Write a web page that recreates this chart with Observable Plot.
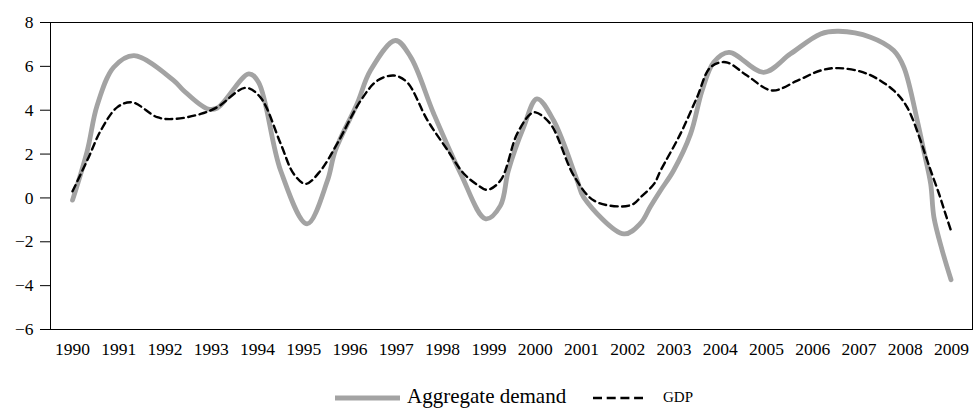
<!DOCTYPE html>
<html>
<head>
<meta charset="utf-8">
<script src="https://cdn.jsdelivr.net/npm/d3@7"></script>
<script src="https://cdn.jsdelivr.net/npm/@observablehq/plot@0.6"></script>
<style>
  html, body { margin: 0; padding: 0; background: #fff; }
  body { width: 974px; height: 415px; overflow: hidden; font-family: "Liberation Serif", "Times New Roman", serif; }
  #chart svg { display: block; }
  #legend { position: relative; width: 974px; height: 55px; }
  #legend .item { position: absolute; white-space: nowrap; color: #000; }
</style>
</head>
<body>
<div id="chart"></div>
<div id="legend">
  <svg style="position:absolute;left:335px;top:34px" width="66" height="8"><line x1="0" x2="65" y1="4" y2="4" stroke="#a3a3a3" stroke-width="5"/></svg>
  <span class="item" id="lab1" style="left:407px;top:24px;font-size:21px;">Aggregate demand</span>
  <svg style="position:absolute;left:593px;top:34px" width="52" height="8"><line x1="0" x2="50" y1="4" y2="4" stroke="#000" stroke-width="2.5" stroke-dasharray="9,4.7"/></svg>
  <span class="item" id="lab2" style="left:663px;top:29px;font-size:15px;">GDP</span>
</div>
<script>
// Aggregate demand (grey, thick) — sampled positions in decimal years
const adYear = [1990.00, 1990.32, 1990.53, 1990.89, 1991.33, 1992.19, 1992.40, 1992.91, 1993.13, 1993.81, 1994.02, 1994.50, 1995.07, 1995.51, 1995.68, 1996.15, 1996.44, 1996.98, 1997.31, 1997.81, 1998.39, 1998.93, 1999.25, 1999.42, 1999.75, 2000.04, 2000.40, 2000.91, 2001.05, 2001.92, 2002.28, 2002.49, 2002.71, 2002.99, 2003.36, 2003.61, 2003.86, 2004.19, 2004.94, 2005.52, 2006.17, 2006.56, 2007.25, 2007.75, 2007.97, 2008.26, 2008.40, 2008.55, 2008.62, 2008.80, 2008.99];
const adValue = [-0.1, 2.16, 4.2, 5.96, 6.49, 5.35, 4.9, 4.07, 4.1, 5.66, 5.28, 1.24, -1.18, 0.79, 2.16, 4.29, 5.81, 7.18, 6.42, 3.83, 1.11, -0.95, -0.35, 1.24, 3.22, 4.52, 3.53, 0.79, 0.03, -1.64, -1.15, -0.4, 0.34, 1.24, 2.92, 4.9, 6.19, 6.64, 5.73, 6.57, 7.48, 7.6, 7.33, 6.72, 5.96, 3.53, 2.16, 0.64, -0.88, -2.4, -3.73];

// GDP (black, dashed)
const gdpYear = [1990.00, 1990.35, 1990.61, 1990.97, 1991.29, 1991.83, 1992.19, 1992.77, 1993.13, 1993.74, 1994.06, 1994.50, 1994.78, 1995.04, 1995.36, 1995.72, 1996.23, 1996.59, 1996.95, 1997.23, 1997.67, 1998.10, 1998.46, 1998.75, 1998.96, 1999.25, 1999.61, 1999.90, 2000.01, 2000.33, 2000.84, 2001.27, 2001.85, 2002.13, 2002.28, 2002.57, 2002.71, 2003.14, 2003.50, 2003.79, 2004.12, 2004.58, 2005.12, 2005.67, 2006.17, 2006.56, 2007.18, 2007.75, 2008.04, 2008.33, 2008.44, 2008.55, 2008.73, 2008.87, 2009.00];
const gdpValue = [0.3, 1.86, 3.07, 4.14, 4.36, 3.68, 3.6, 3.83, 4.14, 5.02, 4.59, 2.47, 1.1, 0.64, 1.24, 2.47, 4.44, 5.35, 5.58, 5.28, 3.55, 2.2, 1.1, 0.6, 0.37, 0.79, 2.92, 3.83, 3.9, 3.38, 1.0, -0.12, -0.39, -0.27, 0.03, 0.64, 1.24, 2.92, 4.59, 5.96, 6.19, 5.58, 4.9, 5.35, 5.81, 5.92, 5.66, 4.9, 4.14, 2.62, 1.93, 1.25, 0.19, -0.73, -1.56];

const yearTicks = [1990, 1991, 1992, 1993, 1994, 1995, 1996, 1997, 1998, 1999, 2000, 2001, 2002, 2003, 2004, 2005, 2006, 2007, 2008, 2009];
const yTicks = [-6, -4, -2, 0, 2, 4, 6, 8];

const ad = adYear.map((t, i) => ({t, v: adValue[i]}));
const gdp = gdpYear.map((t, i) => ({t, v: gdpValue[i]}));

const SERIF = "Liberation Serif, Times New Roman, serif";

const plot = Plot.plot({
  width: 974,
  height: 360,
  marginTop: 22,
  marginBottom: 31,
  marginLeft: 50,
  marginRight: 2,
  style: {fontFamily: SERIF, fontSize: "17.5px", color: "#000", background: "#fff"},
  x: {domain: [1989.524, 2009.454]},
  y: {domain: [-6, 8]},
  marks: [
    Plot.frame({stroke: "#000", strokeWidth: 1}),
    Plot.axisY({ticks: yTicks, tickSize: 10, tickPadding: 7, label: null, stroke: "#000", fontSize: 17.5, fontFamily: SERIF}),
    Plot.axisX({ticks: yearTicks, tickSize: 0, tickPadding: 13, tickFormat: d => String(d), label: null, fontSize: 17.5, fontFamily: SERIF}),
    Plot.line(ad, {x: "t", y: "v", stroke: "#a3a3a3", strokeWidth: 4.8, curve: "catmull-rom"}),
    Plot.line(gdp, {x: "t", y: "v", stroke: "#000", strokeWidth: 2.4, strokeDasharray: "7,4.5", curve: "catmull-rom"})
  ]
});
document.getElementById("chart").appendChild(plot);
</script>
</body>
</html>
